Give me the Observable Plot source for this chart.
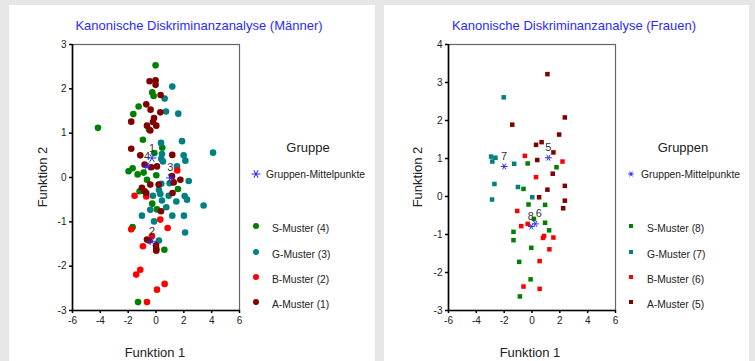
<!DOCTYPE html>
<html><head><meta charset="utf-8">
<script src="https://cdn.jsdelivr.net/npm/d3@7"></script>
<script src="https://cdn.jsdelivr.net/npm/@observablehq/plot@0.6"></script>
<style>
html,body{margin:0;padding:0;}
body{width:755px;height:361px;background:#e6e6e6;position:relative;overflow:hidden;font-family:"Liberation Sans",Arial,sans-serif;}
.panel{position:absolute;top:5px;height:356px;background:#fff;}
.t{position:absolute;white-space:nowrap;line-height:1;color:#222;}
.c{transform:translate(-50%,-50%);}
.l{transform:translateY(-50%);}
.panel svg{position:absolute;left:0;top:0;overflow:visible;}
</style></head><body>
<div id="left" class="panel" style="left:9px;width:366px"></div>
<div id="right" class="panel" style="left:384px;width:365px"></div>
<script>
// ---- data ----
const groupKeys = ["S", "G", "B", "A"];
const groupColors = ["#008000", "#008080", "#ff0000", "#800000"];
const xTicks = [-6, -4, -2, 0, 2, 4, 6];
const menYTicks = [-3, -2, -1, 0, 1, 2, 3];
const womenYTicks = [-3, -2, -1, 0, 1, 2, 3, 4];
const menLegend = ["S-Muster (4)", "G-Muster (3)", "B-Muster (2)", "A-Muster (1)"];
const womenLegend = ["S-Muster (8)", "G-Muster (7)", "B-Muster (6)", "A-Muster (5)"];

const menS = [[-0.03,2.53],[-0.27,1.92],[-0.17,1.84],[-1.25,1.60],[-1.63,1.43],[-0.5,1.08],[-4.17,1.12],[-0.94,0.85],[0.45,0.67],[-0.12,0.55],[-1.68,0.21],[-1.97,0.14],[-1.32,0.07],[-0.89,0.11],[0.02,0.05],[-0.65,-0.05],[1.58,-0.26],[-1.18,-0.31],[-0.27,-0.59],[0.07,-0.72],[-1.68,-1.12],[0.60,-1.63],[-1.29,-2.81]];
const menG = [[1.17,2.05],[0.62,1.78],[0.72,1.49],[1.60,1.44],[0.36,0.78],[1.87,0.82],[4.10,0.56],[1.99,0.50],[2.11,0.38],[0.38,0.42],[0.5,0.36],[0.43,0.53],[1.51,0.25],[2.35,-0.08],[0.98,-0.13],[0.38,-0.14],[0.21,-0.28],[-0.22,-0.41],[0.31,-0.37],[0.91,-0.41],[2.06,-0.42],[2.23,-0.50],[0.43,-0.52],[1.46,-0.54],[3.42,-0.63],[0.74,-0.67],[-0.41,-0.73],[-1.01,-0.86],[1.17,-0.86],[2.01,-0.86],[-0.14,-0.99],[2.09,-1.24],[0.21,-1.42]];
const menB = [[1.53,0.16],[-1.54,-0.41],[-0.70,-0.43],[0.31,-0.95],[-1.78,-1.17],[0.84,-1.14],[-0.29,-1.32],[-0.94,-1.55],[-1.13,-2.08],[-1.42,-2.19],[0.62,-2.40],[0.07,-2.53],[-0.65,-2.81]];
const menA = [[-0.46,2.17],[-0.03,2.19],[-0.03,2.09],[0.33,1.86],[-0.70,1.65],[-0.39,1.53],[0.31,1.47],[-1.78,1.26],[-0.14,1.34],[-0.22,1.25],[-0.65,1.17],[0.02,1.17],[-0.41,1.06],[-1.78,0.65],[-1.13,0.50],[1.17,0.51],[-0.82,0.29],[-0.34,0.23],[0.07,0.25],[1.15,0.03],[1.75,-0.05],[1.27,-0.11],[-0.41,-0.16],[0.19,-0.16],[-1.01,-0.23],[-0.82,-0.31],[-0.70,-0.35],[1.19,-0.35],[0.36,-0.76],[-0.65,-1.40],[-0.50,-1.42],[0,-1.53],[0.02,-1.61],[0.02,-1.65]];
const menCentroids = [["1",-0.29,0.44],["2",-0.29,-1.44],["3",1.03,-0.01],["4",-0.65,0.25]];

const womenS = [[-0.31,0.87],[1.76,0.77],[-0.61,0.20],[-0.25,-0.21],[0.94,-0.22],[0.14,-0.59],[0.94,-0.69],[-1.33,-0.93],[1.23,-0.89],[-1.33,-1.15],[-0.05,-1.35],[-0.92,-1.72],[-0.10,-2.18],[-0.87,-2.63]];
const womenG = [[-2.03,2.61],[-2.94,1.05],[-2.63,1.02],[-2.85,0.92],[-1.28,0.86],[-2.70,0.33],[-1.01,0.25],[-2.87,-0.08],[0.02,-0.02]];
const womenB = [[-0.51,1.07],[2.19,0.92],[0.29,0.51],[-1.06,-0.38],[-0.31,-0.72],[-0.77,-0.78],[0.87,-1.04],[0.79,-1.09],[1.54,-1.08],[1.25,-1.39],[0.55,-1.70],[-0.61,-2.37],[0.55,-2.43]];
const womenA = [[1.11,3.22],[2.36,2.08],[-1.42,1.89],[1.95,1.63],[0.69,1.43],[0.29,1.36],[1.54,1.16],[0.38,0.96],[1.49,0.60],[2.36,0.28],[1.11,0.18],[0.51,-0.02],[2.36,-0.11],[2.24,-0.31]];
const womenCentroids = [["5",1.18,1.02],["6",0.24,-0.72],["7",-2.0,0.79],["8",-0.05,-0.79]];

// ---- build ----
function rows(sets) {
  const out = [];
  groupKeys.forEach((g, i) => sets[i].forEach(([x, y]) => out.push({x, y, g})));
  return out;
}
const starPath = d3.symbol(d3.symbolAsterisk, 60)();

function makePanel(el, cfg) {
  const W = el.clientWidth, H = 356;
  const data = rows(cfg.sets);
  const cents = cfg.centroids.map(([label, x, y]) => ({label, x, y}));
  const ymin = d3.min(cfg.yTicks), ymax = d3.max(cfg.yTicks);
  const dotOpts = cfg.square
    ? {symbol: "square", r: 2.55}
    : {symbol: "circle", r: 3.3};
  const shifted = cfg.shifted || {};
  const textOpts = {x: "x", y: "y", text: "label", dy: -10, fontSize: 11, fill: "#333"};
  const chart = Plot.plot({
    width: W, height: H,
    marginLeft: cfg.ml, marginRight: W - cfg.ml - 167, marginTop: 39, marginBottom: 51,
    style: {fontFamily: "Liberation Sans, Arial, sans-serif", fontSize: "10px", color: "#222", background: "transparent"},
    x: {domain: [-6, 6], label: null},
    y: {domain: [ymin, ymax], label: null},
    color: {domain: groupKeys, range: groupColors},
    marks: [
      Plot.frame({stroke: "#666", strokeWidth: 1.2}),
      Plot.ruleX([-6], {stroke: "#000", strokeWidth: 1.6}),
      Plot.ruleY([ymin], {stroke: "#000", strokeWidth: 1.6}),
      Plot.axisX({ticks: xTicks, tickSize: 3, tickPadding: 3, tickFormat: d => String(d), stroke: "#000", strokeWidth: 1.5, fill: "#222", fontSize: 10}),
      Plot.axisY({ticks: cfg.yTicks, tickSize: 3, tickPadding: 3, tickFormat: d => String(d), stroke: "#000", strokeWidth: 1.5, fill: "#222", fontSize: 10}),
      Plot.dot(data, {x: "x", y: "y", fill: "g", ...dotOpts}),
      Plot.dot(cents, {x: "x", y: "y", symbol: "asterisk", r: cfg.starR, rotate: 90, stroke: "#2a2aff", strokeWidth: 1, fill: "none"}),
      Plot.text(cents.filter(d => !(d.label in shifted)), textOpts),
      ...Object.entries(shifted).map(([lab, o]) =>
        Plot.text(cents.filter(d => d.label === lab), {...textOpts, ...o}))
    ]
  });
  el.appendChild(chart);

  const add = (txt, x, y, cls, style) => {
    const d = document.createElement("div");
    d.className = "t " + cls;
    d.textContent = txt;
    d.style.left = x + "px"; d.style.top = y + "px";
    Object.assign(d.style, style || {});
    el.appendChild(d);
    return d;
  };
  add(cfg.title, 190, 20, "c", {fontSize: "13px", color: "#2b2bff"});
  add("Funktion 1", 146, 347, "c", {fontSize: "13px"});
  add("Funktion 2", 33, 172, "", {fontSize: "13px", transform: "translate(-50%,-50%) rotate(-90deg)"});
  add(cfg.legendTitle, 299, 142, "c", {fontSize: "13px"});
  const s = document.createElementNS("http://www.w3.org/2000/svg", "svg");
  s.setAttribute("width", 20); s.setAttribute("height", 20);
  s.style.left = (247 - 10) + "px"; s.style.top = (169 - 10) + "px";
  const sc = cfg.legendStarScale;
  s.innerHTML = `<path d="${starPath}" transform="translate(10,10) rotate(90) scale(${sc})" stroke="#2a2aff" stroke-width="${1/sc}" fill="none"/>`;
  el.appendChild(s);
  add("Gruppen-Mittelpunkte", 257, 170, "l", {fontSize: "10.3px"});
  const my = [221, 247, 272, 297];
  cfg.legend.forEach((lab, i) => {
    const m = document.createElement("div");
    const sz = cfg.square ? 4.6 : 6.6;
    Object.assign(m.style, {position: "absolute", width: sz + "px", height: sz + "px",
      left: (247 - sz / 2) + "px", top: (my[i] - sz / 2) + "px", background: groupColors[i],
      borderRadius: cfg.square ? "0" : "50%"});
    el.appendChild(m);
    add(lab, 263, my[i] + 3, "l", {fontSize: "10.3px"});
  });
}

makePanel(document.getElementById("left"), {
  sets: [menS, menG, menB, menA], centroids: menCentroids, yTicks: menYTicks,
  ml: 63, square: false, starR: 4.2, title: "Kanonische Diskriminanzanalyse (Männer)",
  legendTitle: "Gruppe", legend: menLegend, legendStarScale: 0.95
});
makePanel(document.getElementById("right"), {
  sets: [womenS, womenG, womenB, womenA], centroids: womenCentroids, yTicks: womenYTicks,
  ml: 64, square: true, starR: 3.2, title: "Kanonische Diskriminanzanalyse (Frauen)",
  legendTitle: "Gruppen", legend: womenLegend, legendStarScale: 0.6,
  shifted: {"8": {textAnchor: "end", dx: 2.5}, "6": {textAnchor: "start", dx: 0.5}}
});
</script></body></html>
